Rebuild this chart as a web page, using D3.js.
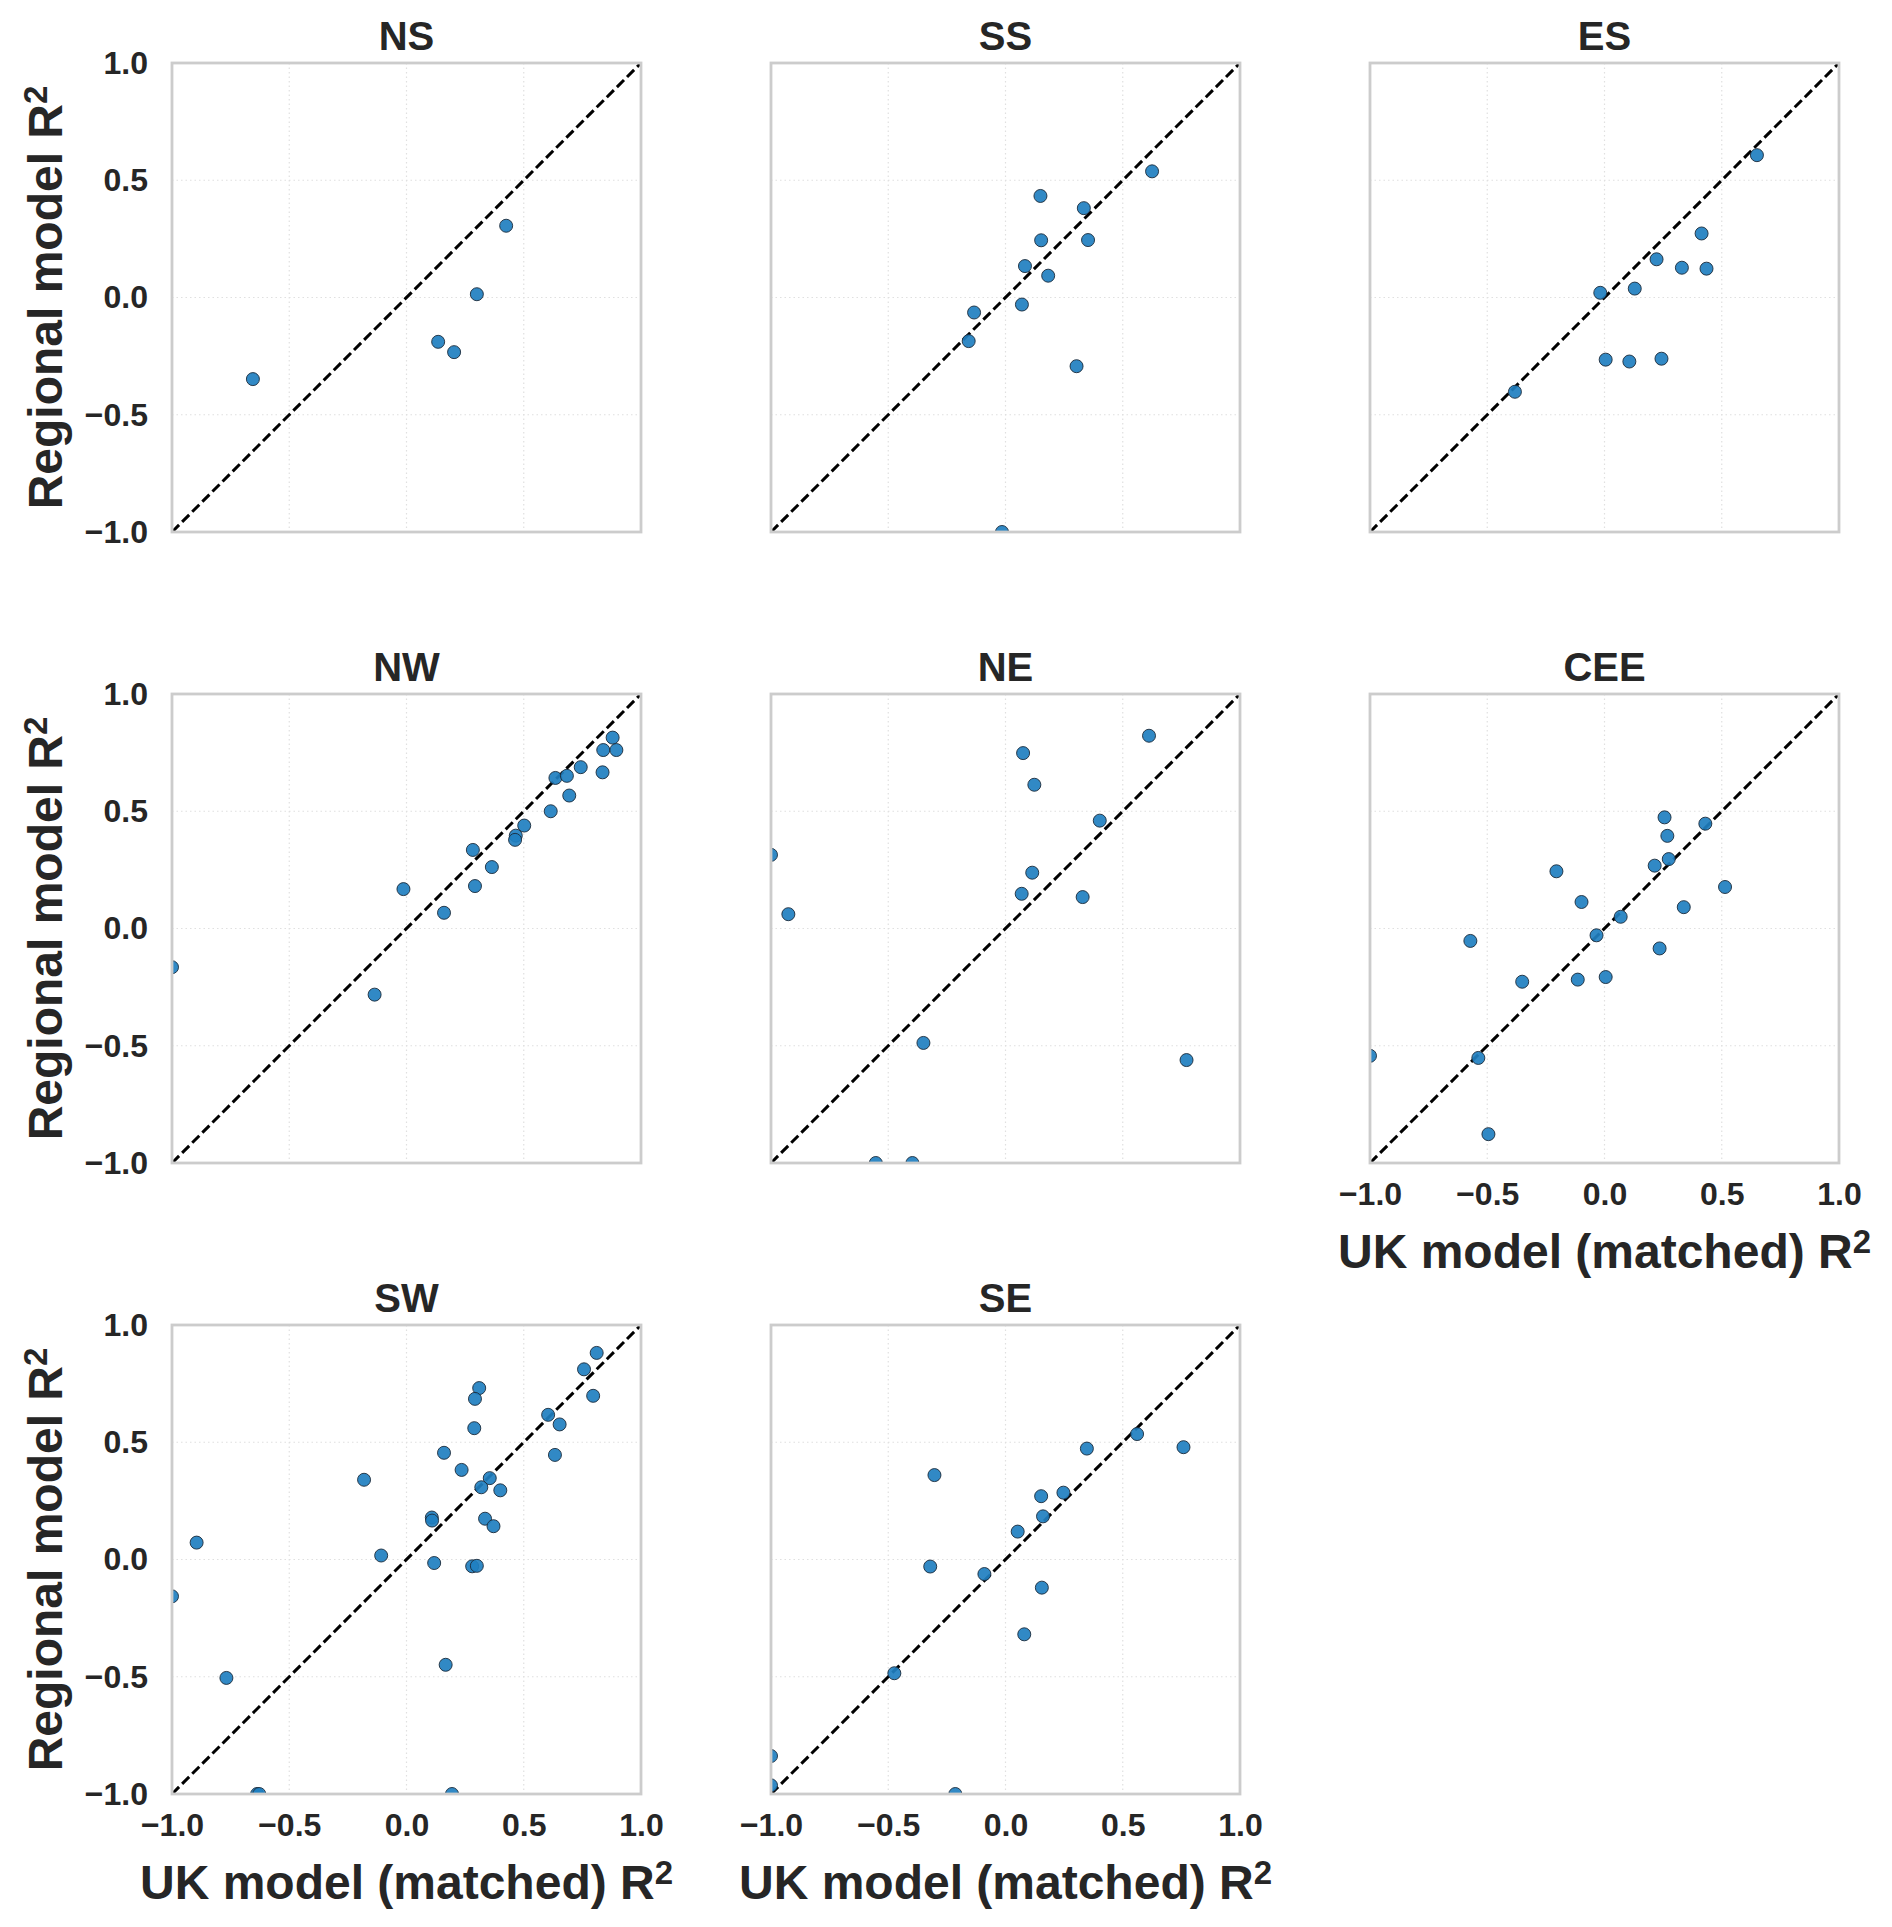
<!DOCTYPE html>
<html>
<head>
<meta charset="utf-8">
<script src="https://cdn.jsdelivr.net/npm/d3@7"></script>
<style>
  html, body { margin: 0; padding: 0; background: #ffffff; }
  svg { display: block; }
  text { font-family: "Liberation Sans", Arial, "DejaVu Sans", sans-serif; font-weight: bold; fill: #262626; }
</style>
</head>
<body>
<svg id="chart" width="1892" height="1927"></svg>
<script>
// ---- data ----
const regions = ["NS", "SS", "ES", "NW", "NE", "CEE", "SW", "SE"];
const tickValues = [-1.0, -0.5, 0.0, 0.5, 1.0];
const tickLabels = ["\u22121.0", "\u22120.5", "0.0", "0.5", "1.0"];

const nsX = [-0.655, 0.135, 0.203, 0.300, 0.425];
const nsY = [-0.348, -0.189, -0.233, 0.014, 0.306];

const ssX = [0.625, 0.149, 0.334, 0.152, 0.352, 0.083, 0.182, 0.070, -0.134, -0.157, 0.303, -0.015];
const ssY = [0.538, 0.433, 0.381, 0.244, 0.245, 0.134, 0.093, -0.030, -0.064, -0.186, -0.293, -1.0];

const esX = [0.650, 0.414, 0.222, 0.330, 0.435, -0.018, 0.129, 0.005, 0.106, 0.243, -0.382];
const esY = [0.607, 0.273, 0.163, 0.127, 0.123, 0.020, 0.038, -0.265, -0.273, -0.261, -0.402];

const nwX = [0.879, 0.839, 0.895, 0.743, 0.836, 0.635, 0.684, 0.694, 0.615, 0.502, 0.466, 0.463, 0.283, 0.364, 0.292, -0.013, 0.160, -1.0, -0.136];
const nwY = [0.814, 0.761, 0.761, 0.688, 0.666, 0.642, 0.651, 0.567, 0.500, 0.439, 0.396, 0.378, 0.335, 0.262, 0.181, 0.168, 0.067, -0.165, -0.282];

const neX = [0.612, 0.075, 0.123, 0.402, -1.0, 0.114, 0.069, 0.329, -0.926, -0.350, 0.772, -0.553, -0.397];
const neY = [0.822, 0.748, 0.613, 0.460, 0.314, 0.238, 0.148, 0.134, 0.061, -0.488, -0.561, -1.0, -1.0];

const ceeX = [0.256, 0.430, 0.268, 0.274, 0.214, -0.205, 0.514, -0.098, 0.338, 0.069, -0.034, -0.572, 0.235, -0.351, -0.114, 0.005, -1.0, -0.538, -0.495];
const ceeY = [0.474, 0.447, 0.395, 0.296, 0.268, 0.244, 0.177, 0.113, 0.091, 0.050, -0.029, -0.053, -0.085, -0.227, -0.218, -0.207, -0.543, -0.552, -0.877];

const swX = [0.811, 0.757, 0.796, 0.310, 0.292, 0.604, 0.653, 0.289, 0.633, 0.160, 0.235, -0.181, 0.355, 0.319, 0.400, 0.108, 0.109, 0.335, 0.371, -0.895, -0.108, 0.118, 0.280, 0.300, -1.0, 0.167, -0.768, -0.637, -0.628, 0.194];
const swY = [0.881, 0.811, 0.698, 0.731, 0.685, 0.617, 0.576, 0.560, 0.446, 0.455, 0.382, 0.340, 0.347, 0.308, 0.295, 0.179, 0.166, 0.174, 0.142, 0.072, 0.017, -0.015, -0.029, -0.027, -0.157, -0.449, -0.505, -1.0, -1.0, -1.0];

const seX = [0.561, 0.759, 0.347, -0.303, 0.247, 0.152, 0.160, 0.052, -0.321, -0.090, 0.155, 0.080, -0.474, -1.0, -1.0, -0.214];
const seY = [0.535, 0.479, 0.473, 0.360, 0.285, 0.270, 0.184, 0.119, -0.030, -0.062, -0.120, -0.319, -0.485, -0.838, -0.963, -1.0];

const seriesX = [nsX, ssX, esX, nwX, neX, ceeX, swX, seX];
const seriesY = [nsY, ssY, esY, nwY, neY, ceeY, swY, seY];

const yLabelText = "Regional model R";
const xLabelText = "UK model (matched) R";

// ---- layout ----
const colLeft = [172, 771, 1370];
const rowTop = [63, 694, 1325];
const size = 469;
const showXTicks = [false, false, false, false, false, true, true, true];

const svg = d3.select("#chart");

regions.forEach((name, i) => {
  const row = Math.floor(i / 3), col = i % 3;
  const x0 = colLeft[col], y0 = rowTop[row];
  const xs = d3.scaleLinear().domain([-1, 1]).range([0, size]);
  const ys = d3.scaleLinear().domain([-1, 1]).range([size, 0]);

  const g = svg.append("g").attr("transform", `translate(${x0},${y0})`);

  g.append("rect").attr("width", size).attr("height", size).attr("fill", "#ffffff");

  // grid
  const grid = g.append("g");
  tickValues.slice(1, -1).forEach(v => {
    grid.append("line")
      .attr("x1", xs(v)).attr("x2", xs(v)).attr("y1", 0).attr("y2", size)
      .attr("stroke", "#e0e0e0").attr("stroke-width", 1.2).attr("stroke-dasharray", "1.5,3");
    grid.append("line")
      .attr("y1", ys(v)).attr("y2", ys(v)).attr("x1", 0).attr("x2", size)
      .attr("stroke", "#e0e0e0").attr("stroke-width", 1.2).attr("stroke-dasharray", "1.5,3");
  });

  const clipId = "clip" + i;
  g.append("clipPath").attr("id", clipId)
    .append("rect").attr("width", size).attr("height", size);

  const inner = g.append("g").attr("clip-path", `url(#${clipId})`);

  // diagonal y = x
  inner.append("line")
    .attr("x1", xs(-1)).attr("y1", ys(-1)).attr("x2", xs(1)).attr("y2", ys(1))
    .attr("stroke", "#000000").attr("stroke-width", 3).attr("stroke-dasharray", "10,4.3");

  // points
  const pts = seriesX[i].map((xv, k) => ({ x: xv, y: seriesY[i][k] }));
  inner.selectAll("circle").data(pts).enter().append("circle")
    .attr("cx", d => xs(d.x)).attr("cy", d => ys(d.y)).attr("r", 6.5)
    .attr("fill", "#1f7fc0").attr("fill-opacity", 0.92)
    .attr("stroke", "#1b2a3a").attr("stroke-width", 0.9);

  // frame
  g.append("rect").attr("x", 0).attr("y", 0).attr("width", size).attr("height", size)
    .attr("fill", "none").attr("stroke", "#cccccc").attr("stroke-width", 2.8);

  // title
  g.append("text").attr("x", size / 2).attr("y", -13)
    .attr("text-anchor", "middle").style("font-size", "40px").text(name);

  // y axis (left column)
  if (col === 0) {
    const yAxis = d3.axisLeft(ys).tickValues(tickValues).tickFormat((d, k) => tickLabels[k]).tickSize(0).tickPadding(24);
    const ya = g.append("g").call(yAxis);
    ya.select(".domain").remove();
    ya.selectAll("text").style("font-size", "32px").attr("fill", "#262626")
      .style("font-family", "'Liberation Sans', Arial, sans-serif").style("font-weight", "bold");

    const yl = g.append("text")
      .attr("transform", `translate(${-110},${size / 2}) rotate(-90)`)
      .attr("text-anchor", "middle").style("font-size", "48px");
    yl.append("tspan").text(yLabelText);
    yl.append("tspan").attr("dy", "-0.45em").style("font-size", "33px").text("2");
  }

  // x axis (bottom of each column)
  if (showXTicks[i]) {
    const xAxis = d3.axisBottom(xs).tickValues(tickValues).tickFormat((d, k) => tickLabels[k]).tickSize(0).tickPadding(19);
    const xa = g.append("g").attr("transform", `translate(0,${size})`).call(xAxis);
    xa.select(".domain").remove();
    xa.selectAll("text").style("font-size", "32px").attr("fill", "#262626")
      .style("font-family", "'Liberation Sans', Arial, sans-serif").style("font-weight", "bold");

    const xl = g.append("text")
      .attr("x", size / 2).attr("y", size + 105)
      .attr("text-anchor", "middle").style("font-size", "48px");
    xl.append("tspan").text(xLabelText);
    xl.append("tspan").attr("dy", "-0.45em").style("font-size", "33px").text("2");
  }
});
</script>
</body>
</html>
